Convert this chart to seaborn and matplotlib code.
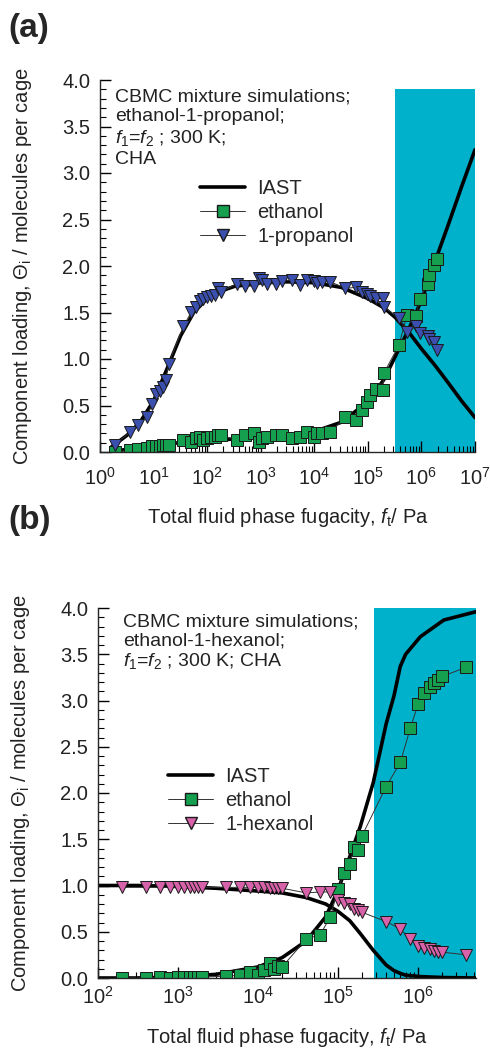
import numpy as np
import matplotlib
matplotlib.use("Agg")
import matplotlib.pyplot as plt
from matplotlib.lines import Line2D
from matplotlib.ticker import (LogLocator, MultipleLocator, FixedLocator, NullFormatter,
                               FormatStrFormatter, FixedFormatter)
import seaborn as sns

# ---------------- data: panel (a) ethanol / 1-propanol ----------------
fa = [1.9, 3.6, 5.2, 7.4, 9.5, 11, 13, 15, 17, 19, 36, 51, 63, 74, 85, 100, 120, 140,
      160, 180, 355, 510, 740, 910, 1050, 1300, 1900, 2500, 3800, 5500, 7200, 9800,
      11000, 14000, 20000, 38000, 59000, 78000, 95000, 1.1e5, 1.4e5, 1.9e5, 2.0e5,
      3.8e5, 5.4e5, 7.8e5, 9.5e5, 1.3e6, 1.4e6, 1.7e6, 1.95e6]
ethanol_a = [0.00, 0.02, 0.03, 0.04, 0.06, 0.06, 0.06, 0.07, 0.07, 0.08, 0.13, 0.11, 0.15,
             0.16, 0.13, 0.15, 0.16, 0.16, 0.18, 0.18, 0.13, 0.18, 0.20, 0.11, 0.15, 0.16,
             0.18, 0.18, 0.15, 0.16, 0.22, 0.16, 0.20, 0.20, 0.21, 0.38, 0.34, 0.45, 0.54,
             0.61, 0.68, 0.67, 0.85, 1.15, 1.47, 1.46, 1.65, 1.81, 1.90, 2.01, 2.08]
propanol_a = [0.08, 0.21, 0.29, 0.38, 0.52, 0.62, 0.66, 0.70, 0.77, 0.95, 1.35, 1.51, 1.56,
              1.62, 1.65, 1.67, 1.68, 1.69, 1.76, 1.72, 1.81, 1.79, 1.78, 1.87, 1.85, 1.81,
              1.81, 1.84, 1.85, 1.80, 1.85, 1.84, 1.82, 1.83, 1.83, 1.76, 1.77, 1.72, 1.70,
              1.68, 1.66, 1.66, 1.56, 1.44, 1.29, 1.35, 1.28, 1.25, 1.22, 1.18, 1.10]

# IAST curves (a)
fa_iast = [1.6, 3.2, 5.6, 10, 18, 32, 56, 100, 180, 320, 1000, 3200, 1e4, 3.2e4, 1e5,
           2e5, 3.2e5, 5.6e5, 1e6, 1.8e6, 3.2e6, 5.6e6, 1e7]
ethanol_iast_a = [0.00, 0.03, 0.05, 0.07, 0.09, 0.10, 0.11, 0.12, 0.13, 0.14, 0.16, 0.18,
                  0.22, 0.32, 0.54, 0.78, 1.02, 1.30, 1.63, 2.05, 2.45, 2.85, 3.25]
propanol_iast_a = [0.05, 0.18, 0.32, 0.55, 0.90, 1.25, 1.50, 1.65, 1.73, 1.78, 1.82, 1.83,
                   1.82, 1.77, 1.65, 1.55, 1.45, 1.30, 1.11, 0.93, 0.74, 0.55, 0.37]

# ---------------- data: panel (b) ethanol / 1-hexanol ----------------
fb = [200, 400, 600, 800, 1000, 1200, 1400, 1600, 1800, 2000, 4000, 6000, 8000, 1e4,
      1.2e4, 1.4e4, 1.6e4, 1.8e4, 2e4, 4e4, 6e4, 8e4, 1e5, 1.2e5, 1.4e5, 1.6e5, 1.8e5,
      2e5, 4e5, 6e5, 8e5, 1e6, 1.2e6, 1.4e6, 1.6e6, 1.8e6, 2e6, 4e6]
ethanol_b = [0.00, 0.00, 0.01, 0.00, 0.01, 0.01, 0.01, 0.01, 0.01, 0.01, 0.02, 0.03, 0.06,
             0.03, 0.09, 0.16, 0.10, 0.13, 0.12, 0.42, 0.47, 0.66, 0.96, 1.14, 1.23, 1.42,
             1.38, 1.54, 2.07, 2.33, 2.70, 2.96, 3.08, 3.15, 3.19, 3.22, 3.26, 3.36]
hexanol_b = [0.98, 0.98, 0.98, 0.98, 0.98, 0.98, 0.98, 0.98, 0.98, 0.98, 0.98, 0.98, 0.98,
             0.98, 0.98, 0.97, 0.97, 0.97, 0.97, 0.92, 0.93, 0.93, 0.84, 0.81, 0.80, 0.75,
             0.74, 0.71, 0.61, 0.53, 0.42, 0.35, 0.32, 0.31, 0.29, 0.28, 0.28, 0.25]

fb_iast = [100, 300, 1000, 3000, 1e4, 2e4, 4e4, 7e4, 1e5, 1.4e5, 1.9e5, 2.75e5, 4e5,
           5e5, 6e5, 7e5, 1.07e6, 2.1e6, 5.3e6]
ethanol_iast_b = [0.00, 0.00, 0.01, 0.04, 0.12, 0.22, 0.40, 0.66, 0.95, 1.31, 1.64, 2.11,
                  2.75, 3.05, 3.37, 3.50, 3.69, 3.87, 3.96]
hexanol_iast_b = [1.00, 1.00, 0.99, 0.97, 0.94, 0.92, 0.87, 0.80, 0.72, 0.62, 0.48, 0.30,
                  0.14, 0.08, 0.05, 0.03, 0.015, 0.005, 0.00]

decades_a = [1, 10, 100, 1e3, 1e4, 1e5, 1e6, 1e7]
decade_labels_a = ["0", "1", "2", "3", "4", "5", "6", "7"]
decades_b = [1e2, 1e3, 1e4, 1e5, 1e6]
decade_labels_b = ["2", "3", "4", "5", "6"]

# ---------------- style ----------------
sns.set_style("ticks")
plt.rcParams["font.family"] = ["Liberation Sans", "DejaVu Sans"]
plt.rcParams["mathtext.fontset"] = "custom"
plt.rcParams["mathtext.rm"] = "Liberation Sans"
plt.rcParams["mathtext.it"] = "Liberation Sans:italic"
plt.rcParams["mathtext.bf"] = "Liberation Sans:bold"

GREEN = "#14A04E"
BLUE = "#3B4FAE"
PINK = "#D862AA"
CYAN = "#00B1CC"
TXT = "#222222"
FS = 14.5
MS_SQ = 8
MS_TRI = 8.7

fig = plt.figure(figsize=(4.9, 10.52), dpi=100)
ax1 = fig.add_axes([100 / 490, 1 - 452 / 1052, 375 / 490, 372 / 1052])
ax2 = fig.add_axes([98 / 490, 1 - 978 / 1052, 378 / 490, 370 / 1052])


def style_axes(ax, xmin, xmax, decades, dlabels, xpad, xlabelpad):
    ax.set_xscale("log")
    ax.set_xlim(xmin, xmax)
    ax.set_ylim(0, 4.0)
    sns.despine(ax=ax)
    for s in ("left", "bottom"):
        ax.spines[s].set_linewidth(1.0)
        ax.spines[s].set_zorder(5)
    ax.yaxis.set_major_locator(MultipleLocator(0.5))
    ax.yaxis.set_minor_locator(MultipleLocator(0.1))
    ax.yaxis.set_major_formatter(FormatStrFormatter("%.1f"))
    ax.xaxis.set_major_locator(FixedLocator(decades))
    ax.xaxis.set_major_formatter(FixedFormatter(
        [r"$\mathregular{10^{%s}}$" % d for d in dlabels]))
    ax.xaxis.set_minor_locator(LogLocator(base=10, subs=np.arange(2, 10), numticks=20))
    ax.xaxis.set_minor_formatter(NullFormatter())
    ax.tick_params(which="major", direction="in", length=8, width=1.0, labelsize=FS, pad=7,
                   color="black", labelcolor=TXT)
    ax.tick_params(which="minor", direction="in", length=4.5, width=0.8, color="black")
    ax.tick_params(axis="x", which="major", pad=xpad)
    ax.set_ylabel(r"Component loading, $\Theta_{\rm i}$ / molecules per cage", fontsize=FS,
                  color=TXT, labelpad=20)
    ax.set_xlabel(r"Total fluid phase fugacity, $f_{\rm t}$/ Pa", fontsize=FS,
                  color=TXT, labelpad=xlabelpad)


def draw_series(ax, x, y, marker, color, ms):
    sns.lineplot(x=x, y=y, ax=ax, estimator=None, sort=True, color="#333333", linewidth=0.7,
                 marker=marker, markersize=ms, markerfacecolor=color,
                 markeredgecolor="#1a1a1a", markeredgewidth=0.7, zorder=4)


def draw_iast(ax, x, y):
    sns.lineplot(x=x, y=y, ax=ax, estimator=None, sort=True, color="black", linewidth=2.6,
                 zorder=3)


def handles(color):
    return [Line2D([], [], color="black", lw=2.6),
            Line2D([], [], color="#333333", lw=0.7, marker="s", ms=MS_SQ, mfc=GREEN,
                   mec="#1a1a1a"),
            Line2D([], [], color="#333333", lw=0.7, marker="v", ms=MS_TRI, mfc=color,
                   mec="#1a1a1a")]


# ---- panel (a)
style_axes(ax1, 1, 1e7, decades_a, decade_labels_a, 11, 12)
ax1.axvspan(3.2e5, 1e7, ymin=0, ymax=3.9 / 4.0, color=CYAN, lw=0, zorder=0)
draw_iast(ax1, fa_iast, ethanol_iast_a)
draw_iast(ax1, fa_iast, propanol_iast_a)
draw_series(ax1, fa, ethanol_a, "s", GREEN, MS_SQ)
draw_series(ax1, fa, propanol_a, "v", BLUE, MS_TRI)
ax1.text(0.04, 0.978, "CBMC mixture simulations;\nethanol-1-propanol;\n"
         r"$f_{\rm 1}$=$f_{\rm 2}$ ; 300 K;" "\nCHA",
         transform=ax1.transAxes, ha="left", va="top", fontsize=14, color=TXT,
         linespacing=1.22)
ax1.legend(handles(BLUE), ["IAST", "ethanol", "1-propanol"], loc="upper left",
           bbox_to_anchor=(0.245, 0.755), frameon=False, fontsize=FS, handlelength=2.25,
           handletextpad=0.6, labelspacing=0.25, borderaxespad=0)

# ---- panel (b)
style_axes(ax2, 1e2, 5.3e6, decades_b, decade_labels_b, 6, 13)
ax2.axvspan(2.8e5, 5.3e6, ymin=0, ymax=1, color=CYAN, lw=0, zorder=0)
draw_iast(ax2, fb_iast, ethanol_iast_b)
draw_iast(ax2, fb_iast, hexanol_iast_b)
draw_series(ax2, fb, ethanol_b, "s", GREEN, MS_SQ)
draw_series(ax2, fb, hexanol_b, "v", PINK, MS_TRI)
ax2.text(0.066, 0.985, "CBMC mixture simulations;\nethanol-1-hexanol;\n"
         r"$f_{\rm 1}$=$f_{\rm 2}$ ; 300 K; CHA",
         transform=ax2.transAxes, ha="left", va="top", fontsize=14, color=TXT,
         linespacing=1.13)
ax2.legend(handles(PINK), ["IAST", "ethanol", "1-hexanol"], loc="upper left",
           bbox_to_anchor=(0.164, 0.592), frameon=False, fontsize=FS, handlelength=2.25,
           handletextpad=0.6, labelspacing=0.25, borderaxespad=0)

fig.text(8 / 490, 1 - 28 / 1052, "(a)", fontsize=24, fontweight="bold", va="center", ha="left")
fig.text(8 / 490, 1 - 520 / 1052, "(b)", fontsize=24, fontweight="bold", va="center", ha="left")

fig.savefig("out.png", dpi=100)
